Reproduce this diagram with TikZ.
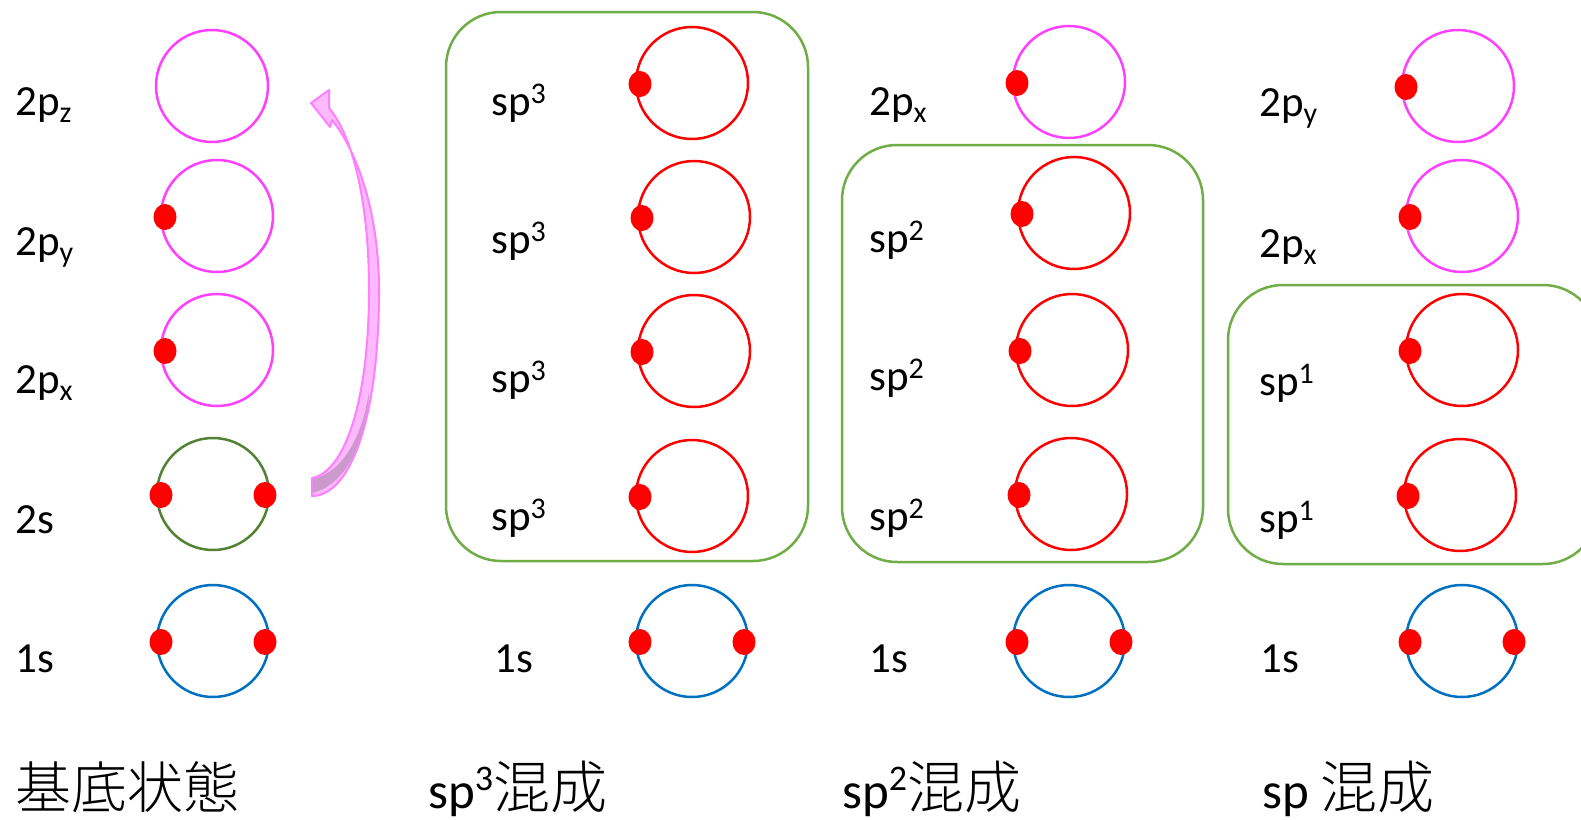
\documentclass[tikz,border=0pt]{standalone}
\usepackage{fontspec}
\setmainfont{Carlito}
\newfontfamily\cjk{Noto Sans CJK JP}[UprightFont={* Light}]
\usetikzlibrary{shapes.geometric,calc}
\definecolor{mag}{RGB}{255,64,255}
\definecolor{sgreen}{RGB}{84,130,53}
\definecolor{sblue}{RGB}{0,112,192}
\definecolor{bgreen}{RGB}{112,173,71}
\definecolor{arrfill}{RGB}{255,185,255}
\definecolor{arrline}{RGB}{255,128,255}
\definecolor{arrdark}{RGB}{204,153,204}
\newcommand\mysub[1]{\raisebox{-7pt}{\fontsize{30}{30}\selectfont #1}}
\newcommand\mysup[1]{\raisebox{12pt}{\fontsize{30}{30}\selectfont #1}}
\newcommand\bigsup[1]{\raisebox{18pt}{\fontsize{36}{36}\selectfont #1}}
\def\arrowpath{(312,478) .. controls (345,472) and (369,400) .. (369,290) .. controls (369,200) and (352,135) .. (329,108) -- (329,90) -- (311,103) -- (330,127) -- (332,120) .. controls (358,152) and (379,215) .. (379,290) .. controls (379,420) and (350,496) .. (312,496) -- cycle}
\begin{document}
\begin{tikzpicture}[x=1pt,y=-1pt,
 orb/.style={circle, draw, line width=2.5pt, minimum size=112pt, inner sep=0pt},
 pz/.style={orb, draw=mag}, hy/.style={orb, draw=red},
 ss/.style={orb, draw=sgreen}, one/.style={orb, draw=sblue},
 el/.style={ellipse, fill=red, minimum width=23pt, minimum height=26pt, inner sep=0pt},
 lbl/.style={anchor=base west, inner sep=0pt, font=\fontsize{43}{43}\selectfont},
 grp/.style={draw=bgreen, line width=2.5pt, rounded corners=55pt},
 big/.style={anchor=base west, inner sep=0pt, font=\fontsize{51}{51}\selectfont}]
\useasboundingbox (0,0) rectangle (1581,819);
\clip (0,0) rectangle (1581,819);
\fill[white] (0,0) rectangle (1581,819);
% group boxes
\draw[grp] (446,12) rectangle (808,561);
\draw[grp] (842,145) rectangle (1203,562);
\draw[grp] (1228,285) rectangle (1598,564);
% column 1
\node[pz] (c11) at (212,86) {};
\node[pz] (c12) at (217,216) {};
\node[pz] (c13) at (217,350) {};
\node[ss] (c14) at (213,494) {};
\node[one] (c15) at (213,641) {};
% column 2
\node[hy] (c21) at (692,83) {};
\node[hy] (c22) at (694,217) {};
\node[hy] (c23) at (694,351) {};
\node[hy] (c24) at (692,496) {};
\node[one] (c25) at (692,641) {};
% column 3
\node[pz] (c31) at (1069,82) {};
\node[hy] (c32) at (1074,213) {};
\node[hy] (c33) at (1072,350) {};
\node[hy] (c34) at (1071,494) {};
\node[one] (c35) at (1069,641) {};
% column 4
\node[pz] (c41) at (1458,86) {};
\node[pz] (c42) at (1462,216) {};
\node[hy] (c43) at (1462,350) {};
\node[hy] (c44) at (1460,495) {};
\node[one] (c45) at (1462,641) {};
% electrons (left)
\foreach \c in {c12,c13,c14,c15,c21,c22,c23,c24,c25,c31,c32,c33,c34,c35,c41,c42,c43,c44,c45}
  \node[el] (\c l) at ($(\c.center)+(-52,1)$) {};
% electrons (right)
\foreach \c in {c14,c15,c25,c35,c45}
  \node[el] (\c r) at ($(\c.center)+(52,1)$) {};
% labels column 1
\node[lbl] (l11) at (15,115) {2p\mysub{z}};
\node[lbl] (l12) at (15,255) {2p\mysub{y}};
\node[lbl] (l13) at (15,393) {2p\mysub{x}};
\node[lbl] (l14) at (15,533) {2s};
\node[lbl] (l15) at (15,672) {1s};
% labels column 2
\node[lbl] (l21) at (491,115) {sp\mysup{3}};
\node[lbl] (l22) at (491,253) {sp\mysup{3}};
\node[lbl] (l23) at (491,392) {sp\mysup{3}};
\node[lbl] (l24) at (491,530) {sp\mysup{3}};
\node[lbl] (l25) at (494,672) {1s};
% labels column 3
\node[lbl] (l31) at (869,115) {2p\mysub{x}};
\node[lbl] (l32) at (869,252) {sp\mysup{2}};
\node[lbl] (l33) at (869,390) {sp\mysup{2}};
\node[lbl] (l34) at (869,530) {sp\mysup{2}};
\node[lbl] (l35) at (869,672) {1s};
% labels column 4
\node[lbl] (l41) at (1259,116) {2p\mysub{y}};
\node[lbl] (l42) at (1259,257) {2p\mysub{x}};
\node[lbl] (l43) at (1259,395) {sp\mysup{1}};
\node[lbl] (l44) at (1259,532) {sp\mysup{1}};
\node[lbl] (l45) at (1260,672) {1s};
% bottom titles
\node[big] (t1) at (15,808) {\cjk\fontsize{56}{56}\selectfont 基底状態};
\node[big] (t2) at (428,808) {sp\bigsup{3}{\cjk\fontsize{57}{57}\selectfont 混成}};
\node[big] (t3) at (842,808) {sp\bigsup{2}{\cjk\fontsize{57}{57}\selectfont 混成}};
\node[big] (t4) at (1262,808) {sp {\cjk\fontsize{57}{57}\selectfont 混成}};
% curved arrow
\fill[arrfill] \arrowpath;
\fill[arrdark] (312,479) .. controls (340,474) and (362,440) .. (369,392) .. controls (368,440) and (345,486) .. (312,493) -- cycle;
\draw[arrline, line width=2pt, line join=round] \arrowpath;
\end{tikzpicture}
\end{document}
